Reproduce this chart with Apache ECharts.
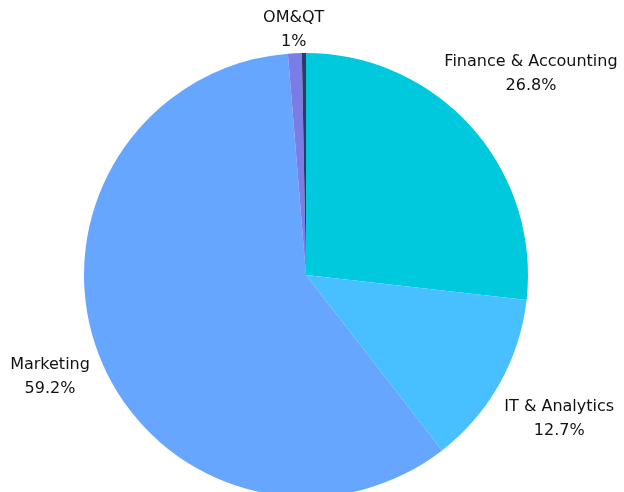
<!DOCTYPE html>
<html><head><meta charset="utf-8">
<script src="https://cdn.jsdelivr.net/npm/echarts@6/dist/echarts.min.js"></script>
<style>html,body{margin:0;padding:0;background:#fff}#c{width:624px;height:492px}</style>
</head><body><div id="c"></div>
<script>
const categories = ['Finance & Accounting', 'IT & Analytics', 'Marketing', 'OM&QT', 'Other'];
const values = [26.8, 12.7, 59.2, 1, 0.3];
const showLabel = [true, true, true, true, false];
const colors = ['#00C9DD', '#48C0FF', '#66A6FF', '#7B7DE6', '#2B3A67'];

const CX = 306, CY = 275, R = 222, GAP = 1;
const total = values.reduce((a, b) => a + b, 0);
const mids = [];
let acc = 0;
values.forEach(v => { mids.push((acc + v / 2) / total * Math.PI * 2); acc += v; });

const chart = echarts.init(document.getElementById('c'));
chart.setOption({
  animation: false,
  series: [{
    type: 'pie',
    center: [CX, CY],
    radius: R,
    startAngle: 90,
    clockwise: true,
    avoidLabelOverlap: false,
    data: categories.map((c, i) => ({
      name: c, value: values[i],
      itemStyle: { color: colors[i] },
      label: { show: showLabel[i] }
    })),
    label: {
      position: 'outside',
      formatter: p => p.name + '\n' + p.value + '%',
      fontFamily: 'DejaVu Sans',
      fontSize: 16,
      lineHeight: 24,
      color: '#111',
      align: 'center'
    },
    labelLine: { show: false },
    labelLayout: function (p) {
      const a = mids[p.dataIndex];
      const ux = Math.sin(a), uy = -Math.cos(a);
      const w = p.labelRect.width / 2, h = uy > 0 ? 40 : 21;
      const d = R + GAP + w * Math.abs(ux) + h * Math.abs(uy);
      return { x: CX + ux * d, y: CY + uy * d + (uy > 0 ? 2 : 0), align: 'center', verticalAlign: 'middle' };
    }
  }]
});
</script></body></html>
